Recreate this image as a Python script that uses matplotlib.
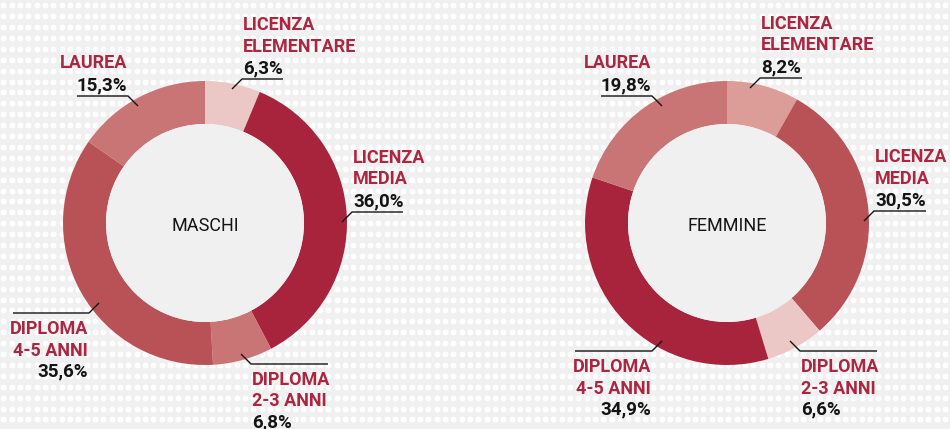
import numpy as np
import matplotlib
matplotlib.use('Agg')
import matplotlib.pyplot as plt
from matplotlib.patches import Circle

# data
categories = ['LICENZA\nELEMENTARE', 'LICENZA\nMEDIA', 'DIPLOMA\n2-3 ANNI',
              'DIPLOMA\n4-5 ANNI', 'LAUREA']
groups = ['MASCHI', 'FEMMINE']
maschi = [6.3, 36.0, 6.8, 35.6, 15.3]
femmine = [8.2, 30.5, 6.6, 34.9, 19.8]

colors_maschi = ['#ebc8c5', '#a8243c', '#c97575', '#b85257', '#c97575']
colors_femmine = ['#dc9c98', '#b85257', '#ebc8c5', '#a8243c', '#c97575']

BG = '#f0f0f0'
RED = '#ab2640'
INK = '#141414'
FONT = 'Roboto'

# layout in pixels (origin top-left): donut centre, label elbows, line lengths
layout = {
    'MASCHI': dict(center=(205, 223),
                   elbows=[(242, 79), (352, 212), (251, 364), (89, 313), (128, 96)],
                   lens=[41, 51, 77, 76, 51]),
    'FEMMINE': dict(center=(727, 223),
                    elbows=[(760, 78), (874, 211), (800, 351), (652, 351), (652, 96)],
                    lens=[42, 52, 77, 77, 51]),
}
R_OUT = 142
RING = 43

fig = plt.figure(figsize=(9.5, 4.29), dpi=100, facecolor=BG)
ax = fig.add_axes([0, 0, 1, 1])
ax.set_facecolor(BG)

# dotted background
gx, gy = np.meshgrid(np.arange(3.3, 950, 25 / 3), np.arange(5.2, 429, 10.9))
ax.scatter(gx.ravel(), gy.ravel(), s=18, color='white', linewidths=0, zorder=0)

for name, values, cols in [('MASCHI', maschi, colors_maschi),
                           ('FEMMINE', femmine, colors_femmine)]:
    lay = layout[name]
    cx, cy = lay['center']
    # y axis is inverted, so counterclockwise in data = clockwise on screen
    ax.pie(values, colors=cols, center=(cx, cy), radius=R_OUT,
           startangle=-90, counterclock=True,
           wedgeprops=dict(width=RING, linewidth=0))
    ax.add_patch(Circle((cx, cy), R_OUT - RING, fc=BG, ec='none', zorder=2))
    ax.text(cx, cy + 3, name, ha='center', va='center', fontsize=13,
            color=INK, family=FONT, zorder=3)

    for cat, v, (ex, ey), ln in zip(categories, values, lay['elbows'], lay['lens']):
        sx = 1 if ex > cx else -1
        sy = 1 if ey > cy else -1
        ax.plot([ex - sx * 10, ex, ex + sx * ln], [ey - sy * 10, ey, ey],
                color=INK, lw=1, zorder=3, solid_capstyle='butt')
        lines = cat.split('\n')
        pct = f'{v:.1f}%'.replace('.', ',')
        tx = ex + sx * 1
        ha = 'left' if sx > 0 else 'right'
        if sy < 0:
            ys = [ey - 6 - 21.5 * (len(lines) - i) for i in range(len(lines))]
            yp = ey - 6
        else:
            ys = [ey + 21 + 21.5 * i for i in range(len(lines))]
            yp = ey + 20.5 + 21.5 * len(lines)
        for s, yy in zip(lines, ys):
            ax.text(tx, yy, s, ha=ha, va='baseline', fontsize=13,
                    fontweight='bold', color=RED, family=FONT, zorder=3)
        ax.text(tx, yp, pct, ha=ha, va='baseline', fontsize=13.5,
                fontweight='bold', color=INK, family=FONT, zorder=3)

ax.set_xlim(0, 950)
ax.set_ylim(429, 0)
ax.set_aspect('auto')
ax.axis('off')

fig.savefig('out.png', dpi=100, facecolor=BG)
